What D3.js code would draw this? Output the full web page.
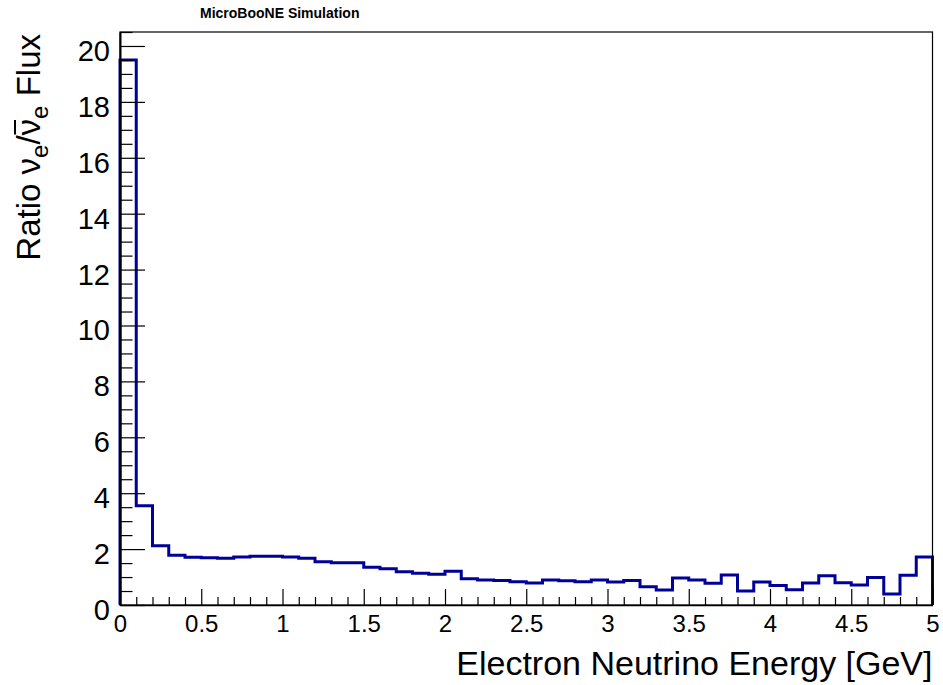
<!DOCTYPE html>
<html>
<head>
<meta charset="utf-8">
<script src="https://cdn.jsdelivr.net/npm/d3@7"></script>
<style>
  body { margin: 0; background: #fff; }
  svg { display: block; }
  text { font-family: "Liberation Sans", Arial, Helvetica, sans-serif; fill: #000; }
</style>
</head>
<body>
<svg id="chart" width="943" height="685"></svg>
<script>
// Histogram binning: 50 bins of 0.1 GeV from 0 to 5 GeV
const binLowEdge = 0;
const binWidth = 0.1;

// nu_e / anti-nu_e flux ratio per energy bin
const ratioValues = [
  19.50, 3.55, 2.12, 1.78, 1.71, 1.69, 1.67, 1.72, 1.74, 1.74,
  1.72, 1.67, 1.55, 1.51, 1.51, 1.35, 1.30, 1.19, 1.14, 1.10,
  1.21, 0.94, 0.89, 0.88, 0.83, 0.79, 0.89, 0.87, 0.83, 0.89,
  0.82, 0.88, 0.65, 0.54, 0.97, 0.89, 0.78, 1.07, 0.50, 0.82,
  0.70, 0.55, 0.79, 1.05, 0.80, 0.72, 0.98, 0.39, 1.06, 1.72
];

// Axis ranges and tick labels
const xDomain = [0, 5];
const yDomain = [0, 20.5];
const xMajorTicks = [0, 0.5, 1, 1.5, 2, 2.5, 3, 3.5, 4, 4.5, 5];
const xTickLabels = ["0", "0.5", "1", "1.5", "2", "2.5", "3", "3.5", "4", "4.5", "5"];
const yMajorTicks = [0, 2, 4, 6, 8, 10, 12, 14, 16, 18, 20];
const yTickLabels = ["0", "2", "4", "6", "8", "10", "12", "14", "16", "18", "20"];

const frame = { left: 120, right: 932.5, top: 32, bottom: 605 };

const svg = d3.select("#chart");

const x = d3.scaleLinear().domain(xDomain).range([frame.left, frame.right]);
const y = d3.scaleLinear().domain(yDomain).range([frame.bottom, frame.top]);

// Step outline of the histogram
const pts = [[binLowEdge, 0]];
ratioValues.forEach((v, i) => {
  const lo = binLowEdge + i * binWidth;
  pts.push([lo, v], [lo + binWidth, v]);
});
pts.push([binLowEdge + ratioValues.length * binWidth, 0]);

svg.append("path")
  .datum(pts)
  .attr("fill", "none")
  .attr("stroke", "#000099")
  .attr("stroke-width", 3)
  .attr("stroke-linejoin", "miter")
  .attr("d", d3.line().x(d => x(d[0])).y(d => y(d[1])));

// Frame box
svg.append("rect")
  .attr("x", frame.left).attr("y", frame.top)
  .attr("width", frame.right - frame.left)
  .attr("height", frame.bottom - frame.top)
  .attr("fill", "none").attr("stroke", "#000").attr("stroke-width", 1.2);

// Minor tick positions
const xMinor = d3.range(0, 51).map(i => i * 0.1).filter(v => Math.abs(v * 2 - Math.round(v * 2)) > 1e-6);
const yMinor = d3.range(0, 42).map(i => i * 0.5).filter(v => v % 2 !== 0 && v <= yDomain[1]);

// X axis: major + minor ticks pointing inward
const xAxisG = svg.append("g").attr("transform", `translate(0,${frame.bottom})`);
xAxisG.call(d3.axisBottom(x).tickValues(xMajorTicks).tickSizeInner(-16).tickSizeOuter(0)
  .tickPadding(0).tickFormat((d, i) => xTickLabels[i]));
xAxisG.select(".domain").attr("stroke", "#000").attr("stroke-width", 1.6);
xAxisG.selectAll(".tick line").attr("stroke", "#000").attr("stroke-width", 1.2);
xAxisG.selectAll(".tick text")
  .attr("y", 27).attr("dy", null)
  .style("font-family", "'Liberation Sans', Arial, sans-serif")
  .style("font-size", "24px");

const xMinorG = svg.append("g").attr("transform", `translate(0,${frame.bottom})`);
xMinorG.call(d3.axisBottom(x).tickValues(xMinor).tickSizeInner(-8).tickSizeOuter(0).tickFormat(""));
xMinorG.select(".domain").remove();
xMinorG.selectAll(".tick line").attr("stroke", "#000").attr("stroke-width", 1.2);

// Y axis: major + minor ticks pointing inward
const yAxisG = svg.append("g").attr("transform", `translate(${frame.left},0)`);
yAxisG.call(d3.axisLeft(y).tickValues(yMajorTicks).tickSizeInner(-25).tickSizeOuter(0)
  .tickPadding(10).tickFormat((d, i) => yTickLabels[i]));
yAxisG.select(".domain").attr("stroke", "#000").attr("stroke-width", 2);
yAxisG.selectAll(".tick line").attr("stroke", "#000").attr("stroke-width", 1.2);
yAxisG.selectAll(".tick text")
  .attr("dy", "0.5em")
  .style("font-family", "'Liberation Sans', Arial, sans-serif")
  .style("font-size", "29px");

const yMinorG = svg.append("g").attr("transform", `translate(${frame.left},0)`);
yMinorG.call(d3.axisLeft(y).tickValues(yMinor).tickSizeInner(-12.5).tickSizeOuter(0).tickFormat(""));
yMinorG.select(".domain").remove();
yMinorG.selectAll(".tick line").attr("stroke", "#000").attr("stroke-width", 1.2);

// X axis title
svg.append("text")
  .attr("x", frame.right).attr("y", 675)
  .attr("text-anchor", "end")
  .style("font-size", "34px")
  .text("Electron Neutrino Energy [GeV]");

// Y axis title: Ratio ν_e / ν̄_e Flux
const yTitle = svg.append("text")
  .attr("transform", `translate(40,${frame.top + 2}) rotate(-90)`)
  .attr("text-anchor", "end")
  .style("font-size", "33px");
yTitle.append("tspan").text("Ratio ν");
yTitle.append("tspan").attr("dy", 8).style("font-size", "24px").text("e");
yTitle.append("tspan").attr("dy", -8).text("/");
const nuBar = yTitle.append("tspan").text("ν");
yTitle.append("tspan").attr("dy", 8).style("font-size", "24px").text("e");
yTitle.append("tspan").attr("dy", -8).text(" Flux");

// Bar over the anti-neutrino symbol, placed from the glyph's own extent
{
  const txt = yTitle.node();
  const full = txt.textContent;
  const idx = full.indexOf("/") + 1;
  const box = txt.getExtentOfChar(idx);
  svg.append("line")
    .attr("transform", `translate(40,${frame.top + 2}) rotate(-90)`)
    .attr("x1", box.x + 1).attr("x2", box.x + box.width - 1)
    .attr("y1", -25).attr("y2", -25)
    .attr("stroke", "#000").attr("stroke-width", 2);
}

// Header label
svg.append("text")
  .attr("x", 200).attr("y", 18)
  .style("font-size", "14px")
  .style("font-weight", "bold")
  .text("MicroBooNE Simulation");
</script>
</body>
</html>
